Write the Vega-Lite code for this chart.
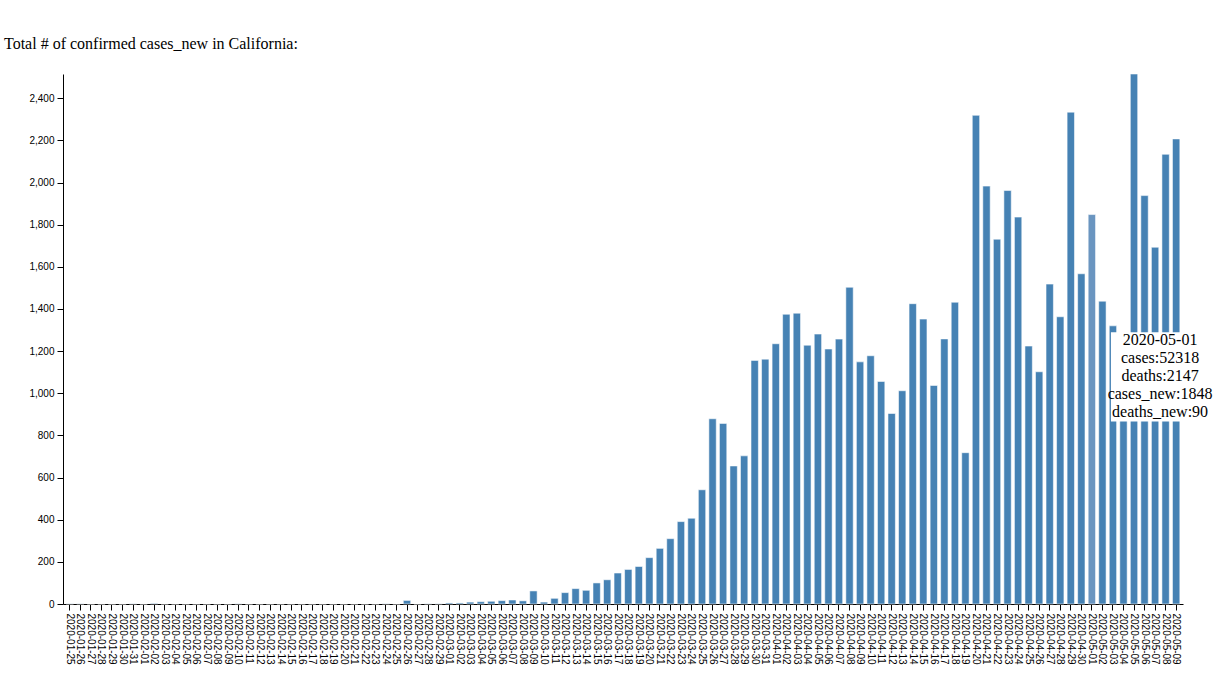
{
  "$schema": "https://vega.github.io/schema/vega-lite/v6.json",
  "width": 1120,
  "height": 530,
  "autosize": {"type": "none"},
  "padding": {"left": 63, "top": 74, "right": 34, "bottom": 73},
  "background": "white",
  "title": {
    "text": "Total # of confirmed cases_new in California:",
    "anchor": "start",
    "frame": "group",
    "font": "Liberation Serif",
    "fontSize": 16,
    "fontWeight": "normal",
    "color": "black",
    "offset": 22,
    "dx": -59
  },
  "config": {
    "view": {"stroke": null},
    "axis": {
      "labelFont": "Liberation Sans",
      "labelFontSize": 10,
      "labelColor": "black",
      "domainColor": "black",
      "tickColor": "black",
      "tickSize": 6,
      "labelPadding": 3,
      "grid": false,
      "title": null
    }
  },
  "data": {
    "values": [
      {"date": "2020-01-25", "cases_new": 1},
      {"date": "2020-01-26", "cases_new": 1},
      {"date": "2020-01-27", "cases_new": 0},
      {"date": "2020-01-28", "cases_new": 0},
      {"date": "2020-01-29", "cases_new": 0},
      {"date": "2020-01-30", "cases_new": 0},
      {"date": "2020-01-31", "cases_new": 1},
      {"date": "2020-02-01", "cases_new": 0},
      {"date": "2020-02-02", "cases_new": 3},
      {"date": "2020-02-03", "cases_new": 0},
      {"date": "2020-02-04", "cases_new": 0},
      {"date": "2020-02-05", "cases_new": 0},
      {"date": "2020-02-06", "cases_new": 0},
      {"date": "2020-02-07", "cases_new": 0},
      {"date": "2020-02-08", "cases_new": 0},
      {"date": "2020-02-09", "cases_new": 0},
      {"date": "2020-02-10", "cases_new": 1},
      {"date": "2020-02-11", "cases_new": 0},
      {"date": "2020-02-12", "cases_new": 0},
      {"date": "2020-02-13", "cases_new": 0},
      {"date": "2020-02-14", "cases_new": 0},
      {"date": "2020-02-15", "cases_new": 0},
      {"date": "2020-02-16", "cases_new": 0},
      {"date": "2020-02-17", "cases_new": 0},
      {"date": "2020-02-18", "cases_new": 0},
      {"date": "2020-02-19", "cases_new": 0},
      {"date": "2020-02-20", "cases_new": 0},
      {"date": "2020-02-21", "cases_new": 0},
      {"date": "2020-02-22", "cases_new": 0},
      {"date": "2020-02-23", "cases_new": 0},
      {"date": "2020-02-24", "cases_new": 1},
      {"date": "2020-02-25", "cases_new": 0},
      {"date": "2020-02-26", "cases_new": 17},
      {"date": "2020-02-27", "cases_new": 0},
      {"date": "2020-02-28", "cases_new": 1},
      {"date": "2020-02-29", "cases_new": 1},
      {"date": "2020-03-01", "cases_new": 5},
      {"date": "2020-03-02", "cases_new": 5},
      {"date": "2020-03-03", "cases_new": 9},
      {"date": "2020-03-04", "cases_new": 11},
      {"date": "2020-03-05", "cases_new": 13},
      {"date": "2020-03-06", "cases_new": 16},
      {"date": "2020-03-07", "cases_new": 19},
      {"date": "2020-03-08", "cases_new": 15},
      {"date": "2020-03-09", "cases_new": 62},
      {"date": "2020-03-10", "cases_new": 9},
      {"date": "2020-03-11", "cases_new": 27},
      {"date": "2020-03-12", "cases_new": 54},
      {"date": "2020-03-13", "cases_new": 73},
      {"date": "2020-03-14", "cases_new": 65},
      {"date": "2020-03-15", "cases_new": 100},
      {"date": "2020-03-16", "cases_new": 115},
      {"date": "2020-03-17", "cases_new": 147},
      {"date": "2020-03-18", "cases_new": 164},
      {"date": "2020-03-19", "cases_new": 178},
      {"date": "2020-03-20", "cases_new": 220},
      {"date": "2020-03-21", "cases_new": 264},
      {"date": "2020-03-22", "cases_new": 310},
      {"date": "2020-03-23", "cases_new": 391},
      {"date": "2020-03-24", "cases_new": 407},
      {"date": "2020-03-25", "cases_new": 542},
      {"date": "2020-03-26", "cases_new": 879},
      {"date": "2020-03-27", "cases_new": 857},
      {"date": "2020-03-28", "cases_new": 655},
      {"date": "2020-03-29", "cases_new": 703},
      {"date": "2020-03-30", "cases_new": 1156},
      {"date": "2020-03-31", "cases_new": 1162},
      {"date": "2020-04-01", "cases_new": 1235},
      {"date": "2020-04-02", "cases_new": 1375},
      {"date": "2020-04-03", "cases_new": 1380},
      {"date": "2020-04-04", "cases_new": 1228},
      {"date": "2020-04-05", "cases_new": 1281},
      {"date": "2020-04-06", "cases_new": 1210},
      {"date": "2020-04-07", "cases_new": 1257},
      {"date": "2020-04-08", "cases_new": 1503},
      {"date": "2020-04-09", "cases_new": 1149},
      {"date": "2020-04-10", "cases_new": 1178},
      {"date": "2020-04-11", "cases_new": 1056},
      {"date": "2020-04-12", "cases_new": 904},
      {"date": "2020-04-13", "cases_new": 1012},
      {"date": "2020-04-14", "cases_new": 1425},
      {"date": "2020-04-15", "cases_new": 1352},
      {"date": "2020-04-16", "cases_new": 1037},
      {"date": "2020-04-17", "cases_new": 1258},
      {"date": "2020-04-18", "cases_new": 1432},
      {"date": "2020-04-19", "cases_new": 718},
      {"date": "2020-04-20", "cases_new": 2319},
      {"date": "2020-04-21", "cases_new": 1983},
      {"date": "2020-04-22", "cases_new": 1731},
      {"date": "2020-04-23", "cases_new": 1962},
      {"date": "2020-04-24", "cases_new": 1836},
      {"date": "2020-04-25", "cases_new": 1224},
      {"date": "2020-04-26", "cases_new": 1102},
      {"date": "2020-04-27", "cases_new": 1518},
      {"date": "2020-04-28", "cases_new": 1363},
      {"date": "2020-04-29", "cases_new": 2334},
      {"date": "2020-04-30", "cases_new": 1567},
      {"date": "2020-05-01", "cases_new": 1848},
      {"date": "2020-05-02", "cases_new": 1437},
      {"date": "2020-05-03", "cases_new": 1320},
      {"date": "2020-05-04", "cases_new": 1100},
      {"date": "2020-05-05", "cases_new": 2515},
      {"date": "2020-05-06", "cases_new": 1938},
      {"date": "2020-05-07", "cases_new": 1693},
      {"date": "2020-05-08", "cases_new": 2134},
      {"date": "2020-05-09", "cases_new": 2207}
    ]
  },
  "encoding": {
    "x": {
      "field": "date",
      "type": "ordinal",
      "scale": {"paddingInner": 0.3, "paddingOuter": 0.3},
      "axis": {"labelAngle": 90, "labelOverlap": false, "labelBound": false}
    }
  },
  "layer": [
    {
      "mark": {"type": "bar", "stroke": "white", "strokeOpacity": 0.55, "strokeWidth": 1},
      "encoding": {
        "y": {
          "field": "cases_new",
          "type": "quantitative",
          "scale": {"nice": false, "zero": true},
          "axis": {
            "values": [0, 200, 400, 600, 800, 1000, 1200, 1400, 1600, 1800, 2000, 2200, 2400],
            "format": ",d"
          }
        },
        "color": {
          "condition": {"test": "datum.date === '2020-05-01'", "value": "#6a95c0"},
          "value": "#4682b4"
        }
      }
    },
    {
      "data": {"values": [{"date": "2020-05-01"}]},
      "mark": {"type": "rect", "fill": "white", "xOffset": -2, "x2Offset": 20},
      "encoding": {
        "x": {"datum": "2020-05-03"},
        "x2": {"datum": "2020-05-09"},
        "y": {"datum": 1290},
        "y2": {"datum": 866}
      }
    },
    {
      "data": {"values": [{"date": "2020-05-01"}]},
      "mark": {
        "type": "text",
        "font": "Liberation Serif",
        "fontSize": 16,
        "lineHeight": 18,
        "align": "center",
        "baseline": "top",
        "fill": "black",
        "dx": 5,
        "text": ["2020-05-01", "cases:52318", "deaths:2147", "cases_new:1848", "deaths_new:90"]
      },
      "encoding": {
        "x": {"datum": "2020-05-07"},
        "y": {"datum": 1290}
      }
    }
  ]
}
